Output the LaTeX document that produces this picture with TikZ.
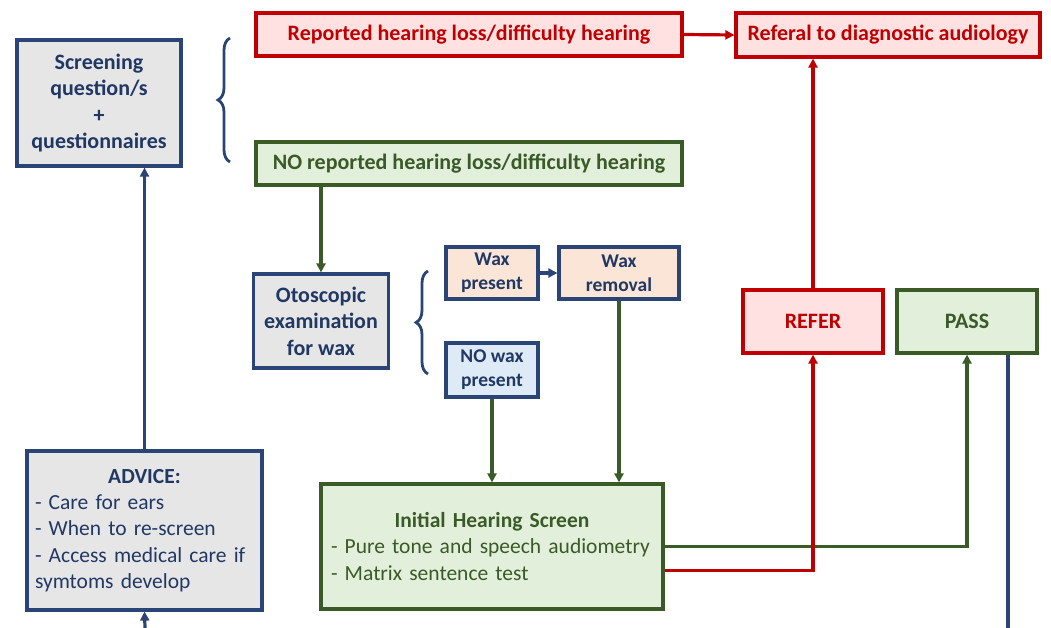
\documentclass[tikz,border=0pt]{standalone}
\usepackage{fontspec}
\setmainfont{Carlito}
\usetikzlibrary{arrows.meta,decorations.pathreplacing}
\definecolor{navy}{HTML}{203864}
\definecolor{navyline}{HTML}{2A4475}
\definecolor{myred}{HTML}{C00000}
\definecolor{mygreen}{HTML}{3A5A27}
\definecolor{fgray}{HTML}{E7E6E6}
\definecolor{fpink}{HTML}{FFE1E1}
\definecolor{fgreen}{HTML}{E2EFDA}
\definecolor{fpeach}{HTML}{FBE5D6}
\definecolor{fblue}{HTML}{DEEBF7}
\tikzset{
  box/.style={draw, line width=3.2pt, inner sep=0pt, align=center,
    font=\fontsize{22}{26.5}\selectfont\bfseries},
  bluebox/.style={box, draw=navyline, text=navy, fill=fgray},
  redbox/.style={box, draw=myred, text=myred, fill=fpink},
  greenbox/.style={box, draw=mygreen, text=mygreen, fill=fgreen},
  smallbox/.style={font=\fontsize{19.5}{24}\selectfont\bfseries},
  arr/.style={line width=3.2pt, -{Triangle[length=9pt,width=9pt]}},
  bluearr/.style={arr, draw=navyline},
  redarr/.style={arr, draw=myred},
  greenarr/.style={arr, draw=mygreen},
  bracestyle/.style={draw=navyline, line width=2.8pt,
    decorate, decoration={brace, amplitude=12pt}},
}
\begin{document}
\begin{tikzpicture}[x=1pt,y=-1pt]
\useasboundingbox (0,0) rectangle (1051,628);

\node[bluebox, minimum width=164pt, minimum height=126pt] (scr) at (99,103)
  {Screening\\question/s\\+\\questionnaires};
\node[redbox, minimum width=426pt, minimum height=43pt] (rep) at (469,34.5)
  {Reported hearing loss/difficulty hearing};
\node[redbox, minimum width=304pt, minimum height=44pt] (refd) at (888,35)
  {Referal to diagnostic audiology};
\node[greenbox, minimum width=426pt, minimum height=43pt] (norep) at (469,163.5)
  {NO reported hearing loss/difficulty hearing};
\node[bluebox, minimum width=135pt, minimum height=94pt] (oto) at (321,321)
  {Otoscopic\\examination\\for wax};
\node[bluebox, smallbox, fill=fpeach, minimum width=92pt, minimum height=52pt]
  (waxp) at (492,273) {Wax\\present};
\node[bluebox, smallbox, fill=fpeach, minimum width=120pt, minimum height=52pt]
  (waxr) at (619,273) {Wax\\removal};
\node[bluebox, smallbox, fill=fblue, minimum width=92pt, minimum height=54pt]
  (nowax) at (492,370) {NO wax\\present};
\node[greenbox, minimum width=342pt, minimum height=125pt, align=left,
  text width=322pt, font=\fontsize{21.5}{26.5}\selectfont] (init) at (492,546.5)
  {\makebox[\linewidth]{\bfseries Initial Hearing Screen}\\
   - Pure tone and speech audiometry\\
   - Matrix sentence test};
\node[redbox, minimum width=140pt, minimum height=63pt] (refer) at (813,321.5) {REFER};
\node[greenbox, minimum width=140pt, minimum height=63pt] (pass) at (967,321.5) {PASS};
\node[bluebox, minimum width=235pt, minimum height=159pt, align=left,
  text width=219pt, font=\fontsize{21.5}{26.3}\selectfont] (adv) at (144.5,530.5)
  {\makebox[\linewidth]{\bfseries ADVICE:}\\
   - Care for ears\\
   - When to re-screen\\
   - Access medical care if\\
   symtoms develop};

\coordinate (passout) at (1008,628);
\coordinate (advin) at (145,628);

% braces
\draw[bracestyle] (230,162) -- (230,38);
\draw[bracestyle] (428,374) -- (428,271);

% connectors
\draw[redarr] (rep.east) -- (refd.west);
\draw[redarr] (refer.north) -- (refer.north |- refd.south);
\draw[greenarr] (norep.south -| oto.north) -- (oto.north);
\draw[bluearr] (waxp.east) -- (waxr.west);
\draw[greenarr] (nowax.south) -- (nowax.south |- init.north);
\draw[greenarr] (waxr.south) -- (waxr.south |- init.north);
\draw[greenarr] (init.east) -| (pass.south);
\draw[redarr] ([yshift=-24pt]init.east) -| (refer.south);
\draw[draw=navyline, line width=3.2pt] (pass.south -| passout) -- (passout);
\draw[bluearr] (adv.north) -- (adv.north |- scr.south);
\draw[bluearr] (advin) -- (adv.south);
\end{tikzpicture}
\end{document}
